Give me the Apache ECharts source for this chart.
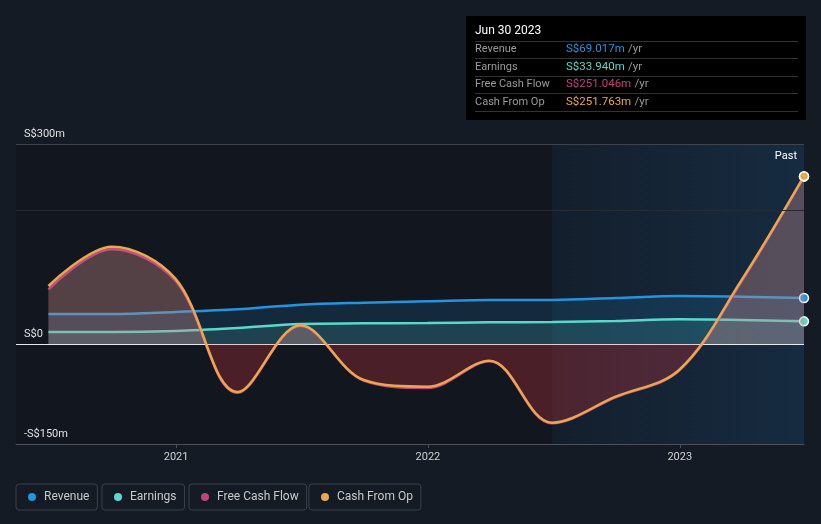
<!DOCTYPE html>
<html>
<head>
<meta charset="utf-8">
<script src="https://cdn.jsdelivr.net/npm/echarts@6/dist/echarts.min.js"></script>
<style>
html,body{margin:0;padding:0;background:#151b24;}
#chart{width:821px;height:524px;}
</style>
</head>
<body>
<div id="chart"></div>
<script>
const dates = ['2020-06-30','2020-09-30','2020-12-31','2021-03-31','2021-06-30','2021-09-30','2021-12-31','2022-03-31','2022-06-30','2022-09-30','2022-12-31','2023-03-31','2023-06-30'];
const revenue = [45, 45, 48, 52, 59, 62, 64, 66, 66, 69, 72, 71, 69.017];
const earnings = [18, 18, 19.5, 24, 30, 31, 31.5, 32.5, 33, 34.5, 37, 36, 33.94];
const freeCashFlow = [82, 142, 95, -73, 27, -55, -66, -26, -119, -80, -40, 93, 251.046];
const cashFromOp = [87, 146, 98, -72, 28, -54, -64, -25, -118, -79, -39, 95, 251.763];
const seriesNames = ['Revenue', 'Earnings', 'Free Cash Flow', 'Cash From Op'];
const seriesColors = ['#2394df', '#5ad8c9', '#c2417d', '#e9a84f'];
const yLabelTicks = [-150, 0, 300];
const pastStart = '2022-06-30';
const axisStart = '2020-05-14';

const chart = echarts.init(document.getElementById('chart'));
const lastIdx = dates.length - 1;
const pair = arr => arr.map((v, i) => [dates[i], v]);
const fmtMoney = v => (v < 0 ? '-' : '') + 'S$' + Math.abs(v).toFixed(3) + 'm';
const months = ['Jan','Feb','Mar','Apr','May','Jun','Jul','Aug','Sep','Oct','Nov','Dec'];
const lastDate = new Date(dates[lastIdx] + 'T00:00:00');
const title = months[lastDate.getMonth()] + ' ' + lastDate.getDate() + ' ' + lastDate.getFullYear();

function signFill(arr, posA, negA) {
  const mx = Math.max(...arr), mn = Math.min(...arr);
  const z = mx / (mx - mn);
  return new echarts.graphic.LinearGradient(0, 0, 0, 1, [
    {offset: 0, color: 'rgba(200,140,140,' + posA + ')'},
    {offset: z, color: 'rgba(200,140,140,' + posA + ')'},
    {offset: z, color: 'rgba(210,50,60,' + negA + ')'},
    {offset: 1, color: 'rgba(210,50,60,' + negA + ')'}
  ]);
}

const endSymbol = (v, p) => p.dataIndex === lastIdx ? 9 : 0;

const allVals = [revenue, earnings, freeCashFlow, cashFromOp];
const series = allVals.map((arr, k) => {
  const s = {
    name: seriesNames[k],
    type: 'line',
    data: pair(arr),
    smooth: 0.35,
    symbol: 'circle',
    symbolSize: endSymbol,
    showSymbol: true,
    showAllSymbol: true,
    color: seriesColors[k],
    itemStyle: {color: seriesColors[k], borderColor: '#fff', borderWidth: 1.5},
    lineStyle: {width: 2.5, color: seriesColors[k]},
    emphasis: {disabled: true},
    z: 2 + k
  };
  if (k === 0) {
    s.areaStyle = {color: 'rgba(35,148,223,0.22)'};
    s.markArea = {
      silent: true,
      itemStyle: {
        color: new echarts.graphic.LinearGradient(0, 0, 1, 0, [
          {offset: 0, color: 'rgba(40,130,210,0.07)'},
          {offset: 1, color: 'rgba(40,130,210,0.19)'}
        ])
      },
      label: {show: true, position: 'insideTopRight', color: '#fff', fontSize: 11, fontFamily: 'Roboto', offset: [-2, 2]},
      data: [[{xAxis: pastStart, name: 'Past'}, {xAxis: dates[lastIdx]}]]
    };
  } else if (k === 1) {
    s.areaStyle = {color: 'rgba(90,216,201,0.2)'};
  } else if (k === 2) {
    s.areaStyle = {color: signFill(arr, 0.2, 0.16), opacity: 1};
  } else {
    s.areaStyle = {color: signFill(arr, 0.2, 0.16), opacity: 1};
    s.markLine = {
      silent: true,
      symbol: 'none',
      label: {show: false},
      lineStyle: {color: '#ffffff', width: 1, type: 'solid', opacity: 0.9},
      data: [{yAxis: 0}]
    };
  }
  return s;
});

const legendLefts = [16, 102, 189, 309];
const legends = seriesNames.map((n, i) => ({
  data: [n],
  left: legendLefts[i],
  top: 484,
  orient: 'horizontal',
  icon: 'circle',
  itemWidth: 8,
  itemHeight: 8,
  itemStyle: {borderWidth: 0},
  padding: [7, 8, 7, 12],
  borderColor: '#3b414b',
  borderWidth: 1,
  borderRadius: 3,
  textStyle: {color: '#c9c9c9', fontSize: 12, fontFamily: 'Roboto', padding: [0, 0, 0, 3]}
}));

const tipX = 466, tipY = 16, tipW = 340, tipH = 104;
const rowY = [49, 67, 84, 102];
const sepY = [41, 58, 76, 93, 111];
const graphic = [
  {type: 'rect', shape: {x: tipX, y: tipY, width: tipW, height: tipH}, style: {fill: '#000'}, z: 100},
  {type: 'text', x: 475, y: 31, z: 101, style: {text: title, fill: '#fff', font: '12px Roboto', verticalAlign: 'middle'}}
];
sepY.forEach(y => graphic.push({type: 'line', z: 101, shape: {x1: 475, y1: y + 0.5, x2: 798, y2: y + 0.5}, style: {stroke: '#333', lineWidth: 1}}));
allVals.forEach((arr, i) => {
  graphic.push({type: 'text', x: 475, y: rowY[i], z: 101, style: {text: seriesNames[i], fill: '#9a9a9a', font: '11px Roboto', verticalAlign: 'middle'}});
  graphic.push({type: 'text', x: 566, y: rowY[i], z: 101, style: {
    text: '{v|' + fmtMoney(arr[lastIdx]) + '} {u|/yr}', verticalAlign: 'middle',
    rich: {v: {fill: seriesColors[i], font: '11.5px Roboto'}, u: {fill: '#9a9a9a', font: '11.5px Roboto'}}
  }});
});

const option = {
  backgroundColor: '#151b24',
  animation: false,
  textStyle: {fontFamily: 'Roboto'},
  grid: {left: 16, right: 17, top: 144, bottom: 80, show: true, backgroundColor: '#12171f', borderWidth: 0},
  legend: legends,
  xAxis: {
    type: 'time',
    min: axisStart,
    max: dates[lastIdx],
    minInterval: 365 * 24 * 3600 * 1000,
    maxInterval: 366 * 24 * 3600 * 1000,
    axisLine: {show: true, onZero: false, lineStyle: {color: '#4a4f58', width: 1}},
    axisTick: {show: true, length: 4, lineStyle: {color: '#4a4f58'}},
    splitLine: {show: false},
    axisLabel: {
      color: '#d0d0d0', fontSize: 11, margin: 8, showMinLabel: false, showMaxLabel: false,
      formatter: function (v) {
        const d = new Date(v);
        return (d.getMonth() === 0 && d.getDate() === 1) ? String(d.getFullYear()) : '';
      }
    }
  },
  yAxis: {
    type: 'value',
    min: -150,
    max: 300,
    interval: 50,
    axisLine: {show: false},
    axisTick: {show: false},
    splitLine: {show: true, lineStyle: {width: 1, color: ['rgba(0,0,0,0)', 'rgba(0,0,0,0)', 'rgba(0,0,0,0)', 'rgba(0,0,0,0)', 'rgba(0,0,0,0)', 'rgba(0,0,0,0)', 'rgba(0,0,0,0)', '#262b33', 'rgba(0,0,0,0)', '#3e434c']}},
    axisLabel: {
      inside: true, margin: 8, color: '#e0e0e0', fontSize: 11, verticalAlign: 'bottom', padding: [0, 0, 4, 0],
      formatter: function (v) {
        if (yLabelTicks.indexOf(v) < 0) return '';
        return v === 0 ? 'S$0' : (v < 0 ? '-' : '') + 'S$' + Math.abs(v) + 'm';
      }
    },
    z: 10
  },
  series: series,
  graphic: graphic
};
chart.setOption(option);
</script>
</body>
</html>
